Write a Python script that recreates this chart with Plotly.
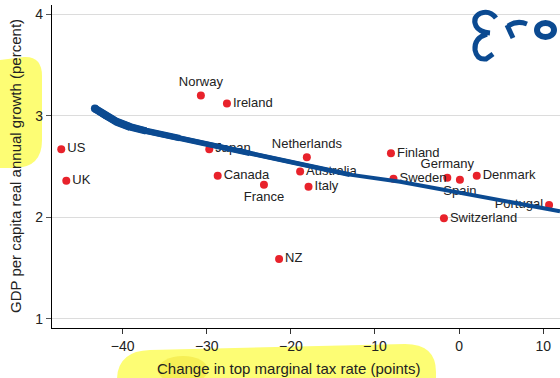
import plotly.graph_objects as go

# ---- data ----
countries = ["US", "UK", "Norway", "Ireland", "Japan", "Canada", "France",
             "Netherlands", "Australia", "Italy", "Finland", "Sweden",
             "Germany", "Spain", "Denmark", "Portugal", "Switzerland", "NZ"]
tax_change = [-47.3, -46.7, -30.7, -27.6, -29.7, -28.7, -23.2,
              -18.1, -18.9, -17.9, -8.1, -7.8,
              -1.4, 0.1, 2.1, 10.7, -1.8, -21.4]
gdp_growth = [2.67, 2.36, 3.20, 3.12, 2.67, 2.41, 2.32,
              2.59, 2.45, 2.30, 2.63, 2.38,
              2.39, 2.37, 2.41, 2.12, 1.99, 1.59]
label_pos = ["middle right", "middle right", "top center", "middle right",
             "middle right", "middle right", "bottom center",
             "top center", "middle right", "middle right", "middle right",
             "middle right", "top center", "bottom center", "middle right",
             "middle left", "middle right", "middle right"]

# hand-drawn fitted curve
curve_x = [-43.3, -42.1, -40.7, -39.1, -37.2, -33.2, -28.8, -24.9, -20.9,
           -13.0, -7.0, 4.9, 12.0]
curve_y = [3.07, 3.00, 2.94, 2.89, 2.85, 2.78, 2.70, 2.63, 2.56,
           2.42, 2.35, 2.17, 2.06]

x_ticks = [-40, -30, -20, -10, 0, 10]
y_ticks = [1, 2, 3, 4]

BLUE = "#0b4a91"
RED = "#e8222b"
FONT = "Liberation Sans, Arial, sans-serif"
TXT = "#222222"

W, H = 560, 378
ML, MR, MT, MB = 52, 0, 5, 50
PW, PH = W - ML - MR, H - MT - MB


def px(x, y):
    return (x - ML) / PW, (H - MB - y) / PH


def path(cmds):
    out = []
    for c in cmds:
        op = c[0]
        pts = c[1:]
        out.append(op + " ".join("%.4f,%.4f" % px(*p) for p in pts))
    return " ".join(out)


fig = go.Figure()

fig.add_trace(go.Scatter(
    x=tax_change, y=gdp_growth, mode="markers+text", text=countries,
    textposition=label_pos,
    marker=dict(color=RED, size=8),
    textfont=dict(family=FONT, size=13, color=TXT),
    hoverinfo="text", showlegend=False, cliponaxis=False))

# curve: nested overlapping polylines so the stroke tapers to the right
taper = [(13, 4), (10, 4.8), (8, 5.6), (6, 6.5), (5, 7.3), (4, 8)]
for n, w in taper:
    fig.add_trace(go.Scatter(
        x=curve_x[:n], y=curve_y[:n], mode="lines",
        line=dict(color=BLUE, width=w),
        showlegend=False, hoverinfo="skip", cliponaxis=False))
fig.add_trace(go.Scatter(
    x=curve_x[:1], y=curve_y[:1], mode="markers",
    marker=dict(color=BLUE, size=8), showlegend=False, hoverinfo="skip"))

shapes = []
YEL = "#fdfd74"
# left highlight
shapes.append(dict(type="path", xref="paper", yref="paper", layer="below",
                   fillcolor=YEL, line=dict(width=0),
                   path=path([("M", (0, 60)), ("L", (24, 57)),
                              ("Q", (42, 56), (42, 76)), ("L", (42, 140)),
                              ("Q", (42, 168), (14, 168)), ("L", (0, 168)),
                              ("Z",)])))
# bottom highlight
shapes.append(dict(type="path", xref="paper", yref="paper", layer="below",
                   fillcolor=YEL, line=dict(width=0),
                   path=path([("M", (117, 380)), ("Q", (117, 351), (150, 350)),
                              ("L", (405, 344)), ("Q", (436, 344), (436, 372)),
                              ("L", (436, 380)), ("Z",)])))
x0, y0 = px(158, 384)
x1, y1 = px(208, 356)
shapes.append(dict(type="circle", xref="paper", yref="paper", layer="below",
                   fillcolor="#f6ef55", line=dict(width=0),
                   x0=x0, y0=y0, x1=x1, y1=y1))
# scribble
scr = dict(color=BLUE, width=5)
shapes.append(dict(type="path", xref="paper", yref="paper", layer="above",
                   line=scr,
                   path=path([("M", (496, 18)), ("Q", (490, 10), (481, 13)),
                              ("Q", (472, 17), (476, 26)),
                              ("Q", (479, 32), (490, 33)),
                              ("M", (487, 34)), ("Q", (474, 38), (475, 50)),
                              ("Q", (477, 60), (486, 59)),
                              ("L", (493, 54))])))
shapes.append(dict(type="path", xref="paper", yref="paper", layer="above",
                   line=scr,
                   path=path([("M", (507, 25)), ("L", (513, 38)),
                              ("M", (508, 26)), ("Q", (517, 20), (527, 24))])))
cx0, cy0 = px(537, 23)
cx1, cy1 = px(554, 37)
shapes.append(dict(type="circle", xref="paper", yref="paper", layer="above",
                   line=dict(color=BLUE, width=6),
                   x0=cx0, y0=cy0, x1=cx1, y1=cy1))

tx, ty = px(288, 369)
yx, yy = px(15, 166)
annotations = [
    dict(text="Change in top marginal tax rate (points)", xref="paper",
         yref="paper", x=tx, y=ty, showarrow=False, xanchor="center",
         yanchor="middle", font=dict(family=FONT, size=15, color=TXT)),
    dict(text="GDP per capita real annual growth (percent)", xref="paper",
         yref="paper", x=yx, y=yy, showarrow=False, xanchor="center",
         yanchor="middle", textangle=-90,
         font=dict(family=FONT, size=15, color=TXT)),
]

fig.update_layout(
    width=W, height=H,
    margin=dict(l=ML, r=MR, t=MT, b=MB),
    paper_bgcolor="white", plot_bgcolor="white",
    font=dict(family=FONT, size=13, color=TXT),
    shapes=shapes, annotations=annotations,
    xaxis=dict(range=[-48.4, 12.0], tickvals=x_ticks, ticks="outside",
               ticklen=5, tickcolor="#333", showgrid=False, zeroline=False,
               showline=True, linecolor="black", linewidth=1.2,
               tickfont=dict(size=14, color=TXT)),
    yaxis=dict(range=[0.91, 4.09], tickvals=y_ticks, ticks="outside",
               ticklen=5, tickcolor="#555", showgrid=True,
               gridcolor="#dcdcdc", gridwidth=1.2, zeroline=False,
               showline=True, linecolor="black", linewidth=1.2,
               tickfont=dict(size=14, color=TXT)),
)

fig.write_html("out.html")
